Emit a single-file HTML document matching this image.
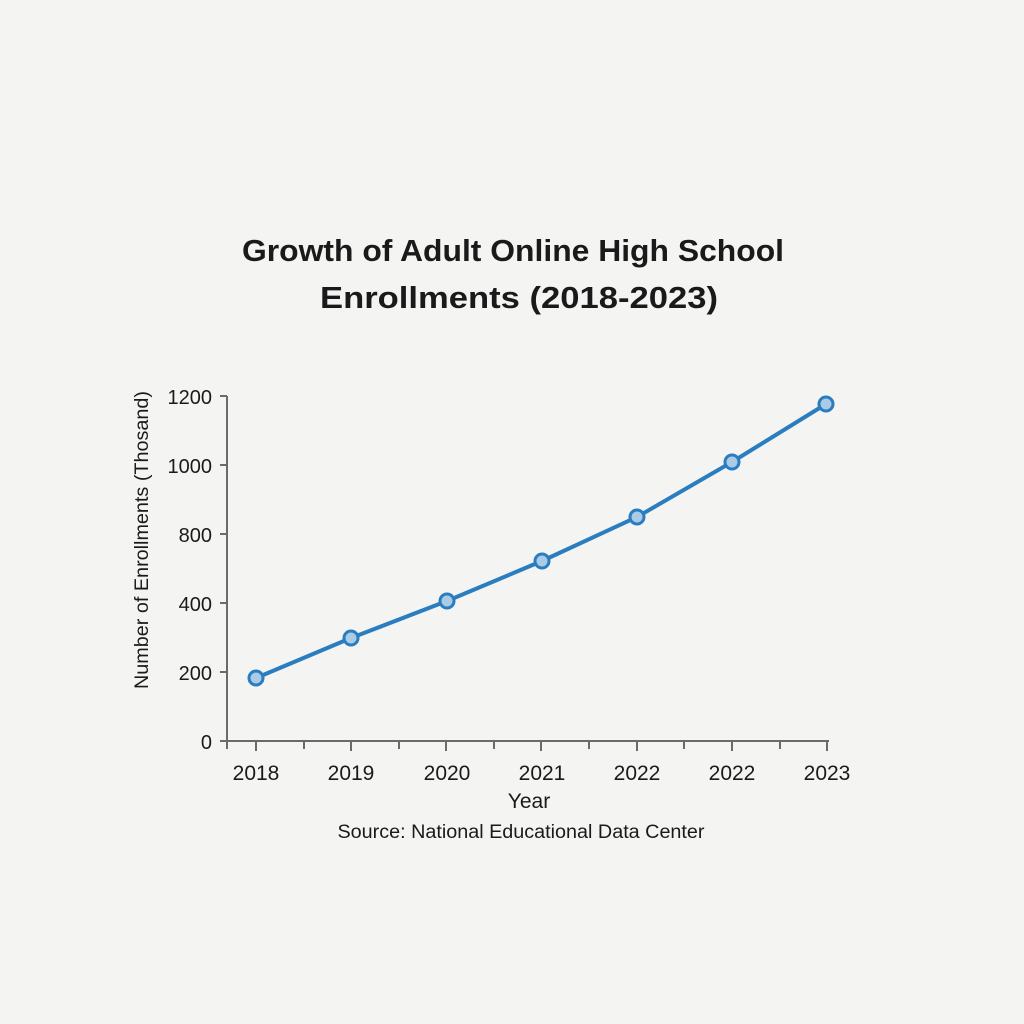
<!DOCTYPE html>
<html><head><meta charset="utf-8"><style>
html,body{margin:0;padding:0;background:#f4f4f3;}
svg{display:block;}
text{font-family:"Liberation Sans",sans-serif;fill:#1a1a1a;}
</style></head><body>
<svg width="1024" height="1024" viewBox="0 0 1024 1024">
<rect width="1024" height="1024" fill="#f4f4f3"/>
<text x="513" y="261" font-size="31" font-weight="bold" text-anchor="middle" textLength="542" lengthAdjust="spacingAndGlyphs">Growth of Adult Online High School</text>
<text x="519" y="308" font-size="31" font-weight="bold" text-anchor="middle" textLength="398" lengthAdjust="spacingAndGlyphs">Enrollments (2018-2023)</text>
<g stroke="#6a6a6a" stroke-width="2" fill="none">
<line x1="227" y1="396" x2="227" y2="742"/>
<line x1="226" y1="741" x2="829" y2="741"/>
<line x1="220" y1="396" x2="227" y2="396"/>
<line x1="220" y1="465" x2="227" y2="465"/>
<line x1="220" y1="534" x2="227" y2="534"/>
<line x1="220" y1="603" x2="227" y2="603"/>
<line x1="220" y1="672" x2="227" y2="672"/>
<line x1="220" y1="741" x2="227" y2="741"/>
<line x1="227" y1="741" x2="227" y2="749"/>
<line x1="256" y1="741" x2="256" y2="751"/>
<line x1="304" y1="741" x2="304" y2="749"/>
<line x1="351" y1="741" x2="351" y2="751"/>
<line x1="399" y1="741" x2="399" y2="749"/>
<line x1="446" y1="741" x2="446" y2="751"/>
<line x1="494" y1="741" x2="494" y2="749"/>
<line x1="541" y1="741" x2="541" y2="751"/>
<line x1="589" y1="741" x2="589" y2="749"/>
<line x1="637" y1="741" x2="637" y2="751"/>
<line x1="684" y1="741" x2="684" y2="749"/>
<line x1="732" y1="741" x2="732" y2="751"/>
<line x1="780" y1="741" x2="780" y2="749"/>
<line x1="827" y1="741" x2="827" y2="751"/>
</g>
<g font-size="20" text-anchor="end">
<text x="212" y="404">1200</text>
<text x="212" y="473">1000</text>
<text x="212" y="542">800</text>
<text x="212" y="611">400</text>
<text x="212" y="680">200</text>
<text x="212" y="749">0</text>
</g>
<g font-size="21" text-anchor="middle">
<text x="256" y="780">2018</text>
<text x="351" y="780">2019</text>
<text x="447" y="780">2020</text>
<text x="542" y="780">2021</text>
<text x="637" y="780">2022</text>
<text x="732" y="780">2022</text>
<text x="827" y="780">2023</text>
<text x="529" y="808">Year</text>
</g>
<text x="521" y="838" font-size="19" text-anchor="middle" textLength="367" lengthAdjust="spacingAndGlyphs">Source: National Educational Data Center</text>
<text transform="translate(148,540) rotate(-90)" font-size="19" text-anchor="middle" textLength="298" lengthAdjust="spacingAndGlyphs">Number of Enrollments (Thosand)</text>
<polyline points="256,678 351,638 447,601 542,561 637,517 732,462 826,404" fill="none" stroke="#2a7dbf" stroke-width="4" stroke-linejoin="round"/>
<g fill="#a9cbe6" stroke="#2a7dbf" stroke-width="3">
<circle cx="256" cy="678" r="7"/><circle cx="351" cy="638" r="7"/><circle cx="447" cy="601" r="7"/>
<circle cx="542" cy="561" r="7"/><circle cx="637" cy="517" r="7"/><circle cx="732" cy="462" r="7"/><circle cx="826" cy="404" r="7"/>
</g>
</svg>
</body></html>
